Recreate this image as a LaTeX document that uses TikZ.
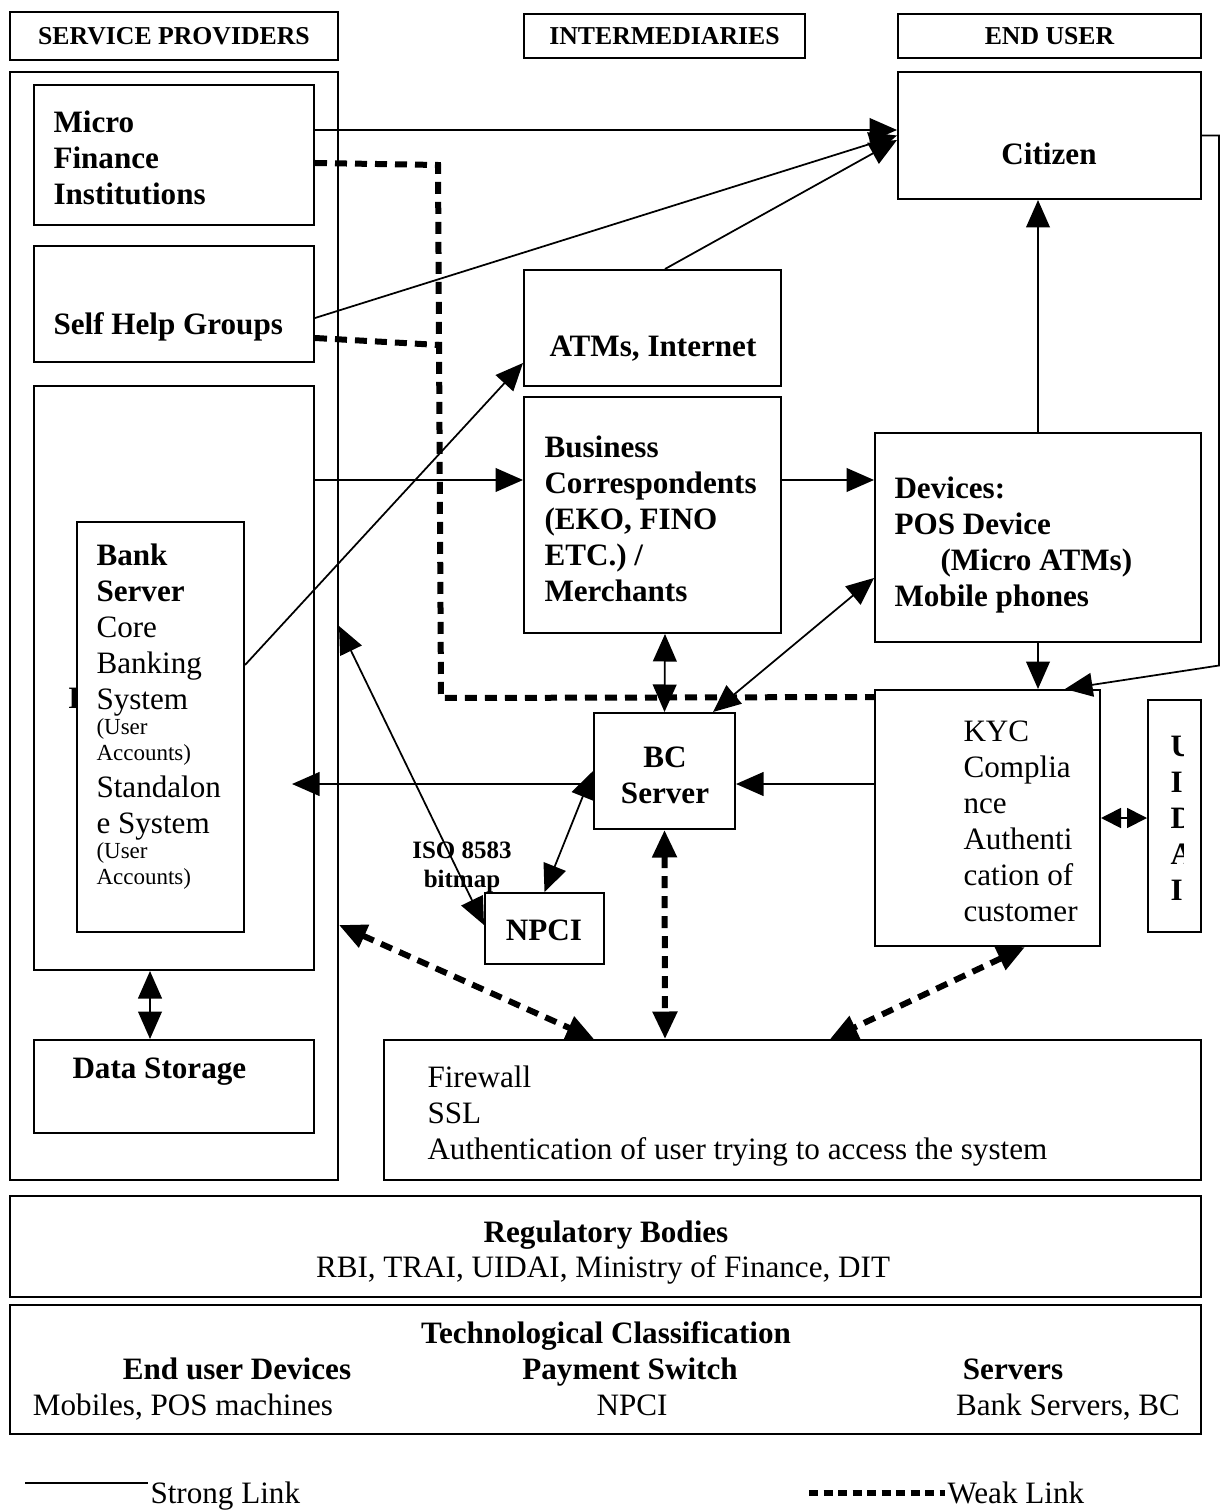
\documentclass[tikz,border=0pt]{standalone}
\usepackage{fontspec}
\setmainfont{Liberation Serif}
\usetikzlibrary{arrows.meta,fit}
\newcommand\fsmain{\fontsize{12.45}{14.4}\selectfont}
\newcommand\fssmall{\fontsize{9.2}{10.4}\selectfont}
\newcommand\fshead{\fontsize{10.3}{12}\selectfont}
\newcommand\fsiso{\fontsize{10}{11.6}\selectfont}
\begin{document}
\begin{tikzpicture}[x=0.4pt,y=-0.4pt,
  box/.style={draw, line width=0.8pt, inner sep=0pt, fill=white},
  tb/.style={inner sep=0pt, font=\fsmain\bfseries, align=left},
  tr/.style={inner sep=0pt, font=\fsmain, align=left},
  bigtri/.tip={Triangle[length=11pt,width=9.5pt]},
  smalltri/.tip={Triangle[length=8pt,width=8pt]},
  strong/.style={line width=0.7pt, -bigtri},
  dstrong/.style={line width=0.7pt, bigtri-bigtri},
  weak/.style={line width=2.4pt, dash pattern=on 4.8pt off 3.2pt},
  dweak/.style={weak, bigtri-bigtri},
  lweak/.style={line width=2.6pt, dash pattern=on 3.6pt off 2.2pt}
]
\useasboundingbox (0,0) rectangle (1228,1510);

% header boxes
\node[box, fit={(10,12) (338,60)}] (hsp) {};
\node[box, fit={(524,14) (805,58)}] (hint) {};
\node[box, fit={(898,14) (1201,58)}] (heu) {};
\node[inner sep=0pt, font=\fshead\bfseries] (hspt) at (hsp.center) {SERVICE PROVIDERS};
\node[inner sep=0pt, font=\fshead\bfseries] (hintt) at (hint.center) {INTERMEDIARIES};
\node[inner sep=0pt, font=\fshead\bfseries] (heut) at (heu.center) {END USER};

% service providers column
\node[box, fit={(10,72) (338,1180)}] (sp) {};
\node[box, fit={(34,85) (314,225)}] (mfi) {};
\node[box, fit={(34,246) (314,362)}] (shg) {};
\node[box, fit={(34,386) (314,970)}] (bank) {};
\node[tb, anchor=base west] (hidden) at (68,708) {B};
\node[box, fit={(77,522) (244,932)}] (bsrv) {};
\node[box, fit={(34,1040) (314,1133)}] (ds) {};

% intermediaries and end user
\node[box, fit={(524,270) (781,386)}] (atm) {};
\node[box, fit={(524,397) (781,633)}] (bc) {};
\node[box, fit={(898,72) (1201,199)}] (cit) {};
\node[box, fit={(875,433) (1201,642)}] (dev) {};
\node[box, fit={(875,690) (1100,946)}] (kyc) {};
\node[box, fit={(1148,700) (1201,932)}] (uid) {};
\node[box, fit={(594,713) (735,829)}] (bcs) {};
\node[box, fit={(485,893) (604,964)}] (npci) {};
\node[box, fit={(384,1040) (1201,1180)}] (fw) {};
\node[box, fit={(10,1196) (1201,1297)}] (reg) {};
\node[box, fit={(10,1305) (1201,1434)}] (tech) {};

% texts
\node[tb, anchor=north west] (mfit) at (53,110) {Micro\\Finance\\Institutions};
\node[tb, anchor=base west] (shgt) at (53,335) {Self Help Groups};
\node[tr, anchor=north west] (bk1) at (96,543) {\textbf{Bank}\\\textbf{Server}\\Core\\Banking\\System};
\node[inner sep=0pt, font=\fssmall, align=left, anchor=north west] (bk2) at (96,718) {(User\\Accounts)};
\node[tr, anchor=north west] (bk3) at (96,775) {Standalon\\e System};
\node[inner sep=0pt, font=\fssmall, align=left, anchor=north west] (bk4) at (96,842) {(User\\Accounts)};
\node[tb, anchor=base west] (dst) at (72,1078) {Data Storage};
\node[tb, anchor=base] (atmt) at (653,357) {ATMs, Internet};
\node[tb, anchor=north west] (bct) at (544,435) {Business\\Correspondents\\(EKO, FINO\\ETC.) /\\Merchants};
\node[tb, anchor=base] (citt) at (1049,165) {Citizen};
\node[tb, anchor=north west] (devt) at (894,476) {Devices:\\POS Device\\\hspace*{18.4pt}(Micro ATMs)\\Mobile phones};
\node[tr, anchor=north west] (kyct) at (963,720) {KYC\\Complia\\nce\\Authenti\\cation of\\customer};
\begin{scope}
\clip (1148,700) rectangle (1183,932);
\node[tb, anchor=north west] (uidt) at (1170,736) {U\\I\\D\\A\\I};
\end{scope}
\node[tb, align=center, anchor=north] (bcst) at (665,746) {BC\\Server};
\node[tb, anchor=base] (npcit) at (544,940) {NPCI};
\node[inner sep=0pt, font=\fsiso\bfseries, align=center, anchor=north] (iso) at (462,841) {ISO 8583\\bitmap};
\node[tr, anchor=north west] (fwt) at (427,1065) {Firewall\\SSL\\Authentication of user trying to access the system};
\node[tb, anchor=base] (regt1) at (606,1242) {Regulatory Bodies};
\node[tr, anchor=base] (regt2) at (603,1277) {RBI, TRAI, UIDAI, Ministry of Finance, DIT};
\node[tb, anchor=base] (techt) at (606,1343) {Technological Classification};
\node[tb, anchor=base] (tc1) at (237,1379) {End user Devices};
\node[tb, anchor=base] (tc2) at (630,1379) {Payment Switch};
\node[tb, anchor=base] (tc3) at (1013,1379) {Servers};
\node[tr, anchor=base] (tc4) at (183,1415) {Mobiles, POS machines};
\node[tr, anchor=base] (tc5) at (632,1415) {NPCI};
\node[tr, anchor=base] (tc6) at (1068,1415) {Bank Servers, BC};

% strong links
\draw[strong] ([yshift=10pt]mfi.east) -- ([yshift=2.2pt]cit.west);
\draw[strong] ([yshift=-5.6pt]shg.east) -- (cit.west);
\draw[strong] ([xshift=5pt]atm.north) -- ([yshift=-1.8pt]cit.west);
\draw[strong] ([yshift=24.8pt]bsrv.east) -- ([yshift=-14pt]atm.west);
\draw[strong] ([yshift=79.2pt]bank.east) -- ([yshift=14pt]bc.west);
\draw[strong] ([yshift=14pt]bc.east) -- ([yshift=23pt]dev.west);
\draw[strong] (dev.north) -- (dev.north |- cit.south);
\draw[strong] (dev.south) -- (dev.south |- kyc.north);
\draw[strong] (cit.east) -- ++(17,0) -- ++(0,530) -- ([xshift=31pt]kyc.north);
\draw[dstrong] ([xshift=5pt]bc.south) -- (bcs.north);
\draw[dstrong] ([yshift=-16.2pt]dev.west) -- ([xshift=-9.2pt]bcs.north east);
\draw[strong] ([yshift=13.6pt]kyc.west) -- ([yshift=-5.2pt]bcs.east);
\draw[strong] ([yshift=-5.2pt]bcs.west) -- ([xshift=-9.2pt,yshift=-42.4pt]bank.east);
\draw[dstrong] (bcs.west) -- (npci.north);
\draw[dstrong] (sp.east) -- ([yshift=1.4pt]npci.west);
\draw[line width=0.7pt, smalltri-smalltri] (kyc.east) -- (kyc.east -| uid.west);
\draw[dstrong] ([xshift=-9.6pt]bank.south) -- ([xshift=-9.6pt]ds.north);

% weak links
\coordinate (wc1) at (438,165);
\coordinate (wc2) at (441,698);
\coordinate (wc3) at (439,345);
\draw[weak] ([yshift=-3.2pt]mfi.east) -- (wc1) -- (wc2) -- ([yshift=-3.2pt]kyc.north west);
\draw[weak] ([yshift=-13.6pt]shg.east) -- (wc3);
\draw[dweak] ([yshift=-119.6pt]sp.east) -- ([xshift=-79.4pt]fw.north);
\draw[dweak] (bcs.south) -- ([xshift=-51pt]fw.north);
\draw[dweak] ([xshift=15pt]kyc.south) -- ([xshift=15pt]fw.north);

% legend
\coordinate (ls1) at (25,1483);
\coordinate (ls2) at (148,1483);
\draw[line width=0.8pt] (ls1) -- (ls2);
\node[tr, anchor=base west] (lst) at (150,1503) {Strong Link};
\coordinate (lw1) at (809,1493);
\coordinate (lw2) at (945,1493);
\draw[lweak] (lw1) -- (lw2);
\node[tr, anchor=base west] (lwt) at (947,1503) {Weak Link};
\end{tikzpicture}
\end{document}
